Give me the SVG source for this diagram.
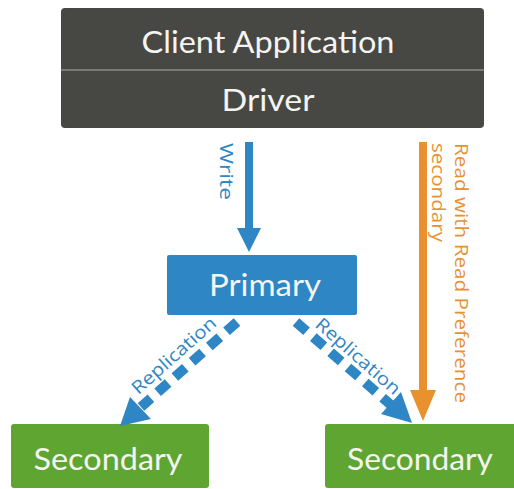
<svg xmlns="http://www.w3.org/2000/svg" width="514" height="489" viewBox="0 0 514 489">
<defs>
<style>
.node{font-family:Lato,"Liberation Sans",sans-serif;font-size:30px;fill:#f4f4f0;text-anchor:middle}
.lbl{font-family:"Open Sans","Liberation Sans",sans-serif;font-size:18px}
.blue{fill:#2e86c5}
.orange{fill:#e8912e}
</style>
</defs>
<rect width="514" height="489" fill="#ffffff"/>
<g id="client">
<rect x="61" y="8" width="423" height="120" rx="4" fill="#474744"/>
<line x1="61" y1="70" x2="484" y2="70" stroke="#8a8a86" stroke-width="1.5"/>
<text class="node" x="268" y="53" textLength="253" lengthAdjust="spacingAndGlyphs">Client Application</text>
<text class="node" x="268" y="111" textLength="93" lengthAdjust="spacingAndGlyphs">Driver</text>
</g>
<g id="primary">
<rect x="167" y="255" width="190" height="60" rx="2" fill="#2e86c5"/>
<text class="node" x="265" y="296" textLength="112" lengthAdjust="spacingAndGlyphs">Primary</text>
</g>
<g id="secondary1">
<rect x="11" y="424" width="198" height="64" rx="3" fill="#5ea532"/>
<text class="node" x="108" y="470" textLength="149" lengthAdjust="spacingAndGlyphs">Secondary</text>
</g>
<g id="secondary2">
<rect x="325" y="424" width="195" height="64" rx="3" fill="#5ea532"/>
<text class="node" x="420" y="470" textLength="146" lengthAdjust="spacingAndGlyphs">Secondary</text>
</g>
<g id="connectors">
<rect x="245" y="142" width="8" height="88" fill="#2e86c5"/>
<path d="M237,228 L261,228 L249,252 z" fill="#2e86c5"/>
<rect x="419" y="142" width="8" height="252" fill="#e8912e"/>
<path d="M410,390 L436,390 L423,421 z" fill="#e8912e"/>
<line x1="237" y1="322" x2="141" y2="407" stroke="#2e86c5" stroke-width="10" stroke-dasharray="14,9"/>
<path d="M120,426 L130,397 L151,419 z" fill="#2e86c5"/>
<line x1="296" y1="322" x2="391" y2="405" stroke="#2e86c5" stroke-width="10" stroke-dasharray="14,9"/>
<path d="M412,423 L381,414 L401,392 z" fill="#2e86c5"/>
<text class="lbl blue" transform="translate(220,143) rotate(90)" textLength="57" lengthAdjust="spacingAndGlyphs">Write</text>
<text class="lbl orange" transform="translate(455,143) rotate(90)" textLength="260" lengthAdjust="spacingAndGlyphs">Read with Read Preference</text>
<text class="lbl orange" transform="translate(432,143) rotate(90)" textLength="99" lengthAdjust="spacingAndGlyphs">secondary</text>
<text class="lbl blue" text-anchor="middle" transform="translate(178,360) rotate(-41.6)" textLength="106" lengthAdjust="spacingAndGlyphs">Replication</text>
<text class="lbl blue" text-anchor="middle" transform="translate(354,361) rotate(41.2)" textLength="106" lengthAdjust="spacingAndGlyphs">Replication</text>
</g>
</svg>
